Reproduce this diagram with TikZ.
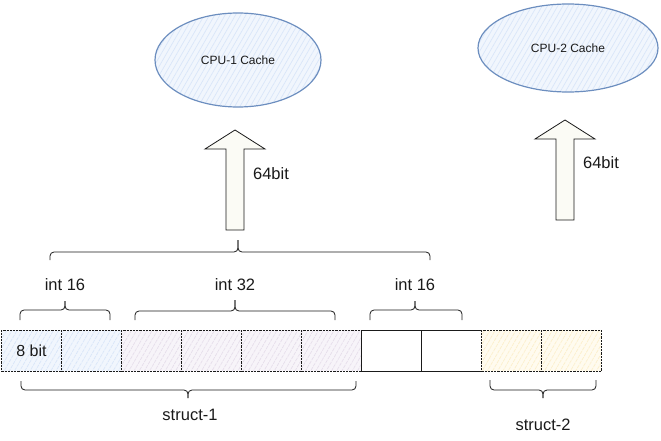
\documentclass[tikz,border=0pt]{standalone}
\usepackage{fontspec}
\setmainfont{Liberation Sans}
\usetikzlibrary{shapes.geometric,patterns.meta}
\definecolor{bluefill}{HTML}{F1F6FD}
\definecolor{bluehatch}{HTML}{D9E6F9}
\definecolor{purplefill}{HTML}{F7F4F9}
\definecolor{purplehatch}{HTML}{E6DEEB}
\definecolor{yellowfill}{HTML}{FFFBEF}
\definecolor{yellowhatch}{HTML}{FCEFCB}
\definecolor{cachestroke}{HTML}{6C8EBF}
\definecolor{arrowfill}{HTML}{FBFBF5}
\definecolor{ink}{HTML}{1A1A1A}
\begin{document}
\begin{tikzpicture}[x=1pt,y=-1pt,
  cell/.style={draw=ink, minimum width=60pt, minimum height=41pt, inner sep=0pt,
    anchor=north west, line width=0.8pt, font=\fontsize{16}{19}\selectfont, text=ink},
  dashcell/.style={cell, dash pattern=on 2.2pt off 1pt},
  hatch/.style={preaction={fill=#1fill}, pattern={Lines[angle=60,distance=4.5pt,line width=0.7pt]}, pattern color=#1hatch},
  cache/.style={ellipse, draw=cachestroke, line width=1.2pt, hatch=blue,
    font=\fontsize{12}{14}\selectfont, text=ink, inner sep=0pt},
  bigarrow/.style={draw=ink, line width=0.8pt, fill=arrowfill, line join=miter},
  lbl/.style={font=\fontsize{16.5}{19}\selectfont, text=ink, inner sep=0pt},
  br/.style={draw=ink, line width=0.8pt, rounded corners=4pt}
]
\useasboundingbox (0,0) rectangle (661,441);

% caches
\node[cache, minimum width=166pt, minimum height=94pt] (cpu1) at (238,60) {CPU-1 Cache};
\node[cache, minimum width=180pt, minimum height=88pt] (cpu2) at (568,48) {CPU-2 Cache};

% arrows
\draw[bigarrow] (226,230) -- (226,149) -- (205,149) -- (235,130) -- (265,149) -- (244,149) -- (244,230) -- cycle;
\node[lbl] (bits1) at (271,174) {64bit};
\draw[bigarrow] (556,220) -- (556,139) -- (535,139) -- (565,120) -- (595,139) -- (574,139) -- (574,220) -- cycle;
\node[lbl] (bits2) at (601,163) {64bit};

% top brace
\draw[br] (50,260) -- (50,252) -- (238,252) -- (238,240);
\draw[br] (430,260) -- (430,252) -- (238,252) -- (238,240);

% int labels
\node[lbl] (i1) at (65,285) {int 16};
\node[lbl] (i2) at (235,285) {int 32};
\node[lbl] (i3) at (415,285) {int 16};

% small braces
\draw[br] (20,320) -- (20,310) -- (65,310) -- (65,301);
\draw[br] (110,320) -- (110,310) -- (65,310) -- (65,301);
\draw[br] (135,320) -- (135,311) -- (235,311) -- (235,300);
\draw[br] (335,320) -- (335,311) -- (235,311) -- (235,300);
\draw[br] (370,320) -- (370,310) -- (415,310) -- (415,301);
\draw[br] (462,320) -- (462,310) -- (415,310) -- (415,301);

% cells
\node[dashcell, hatch=blue] (c1) at (1,330) {8 bit};
\node[dashcell, hatch=blue] (c2) at (61,330) {};
\node[dashcell, hatch=purple] (c3) at (121,330) {};
\node[dashcell, hatch=purple] (c4) at (181,330) {};
\node[dashcell, hatch=purple] (c5) at (241,330) {};
\node[dashcell, hatch=purple] (c6) at (301,330) {};
\node[cell, fill=white] (c7) at (361,330) {};
\node[cell, fill=white] (c8) at (421,330) {};
\node[dashcell, hatch=yellow] (c9) at (481,330) {};
\node[dashcell, hatch=yellow] (c10) at (541,330) {};

% bottom braces
\draw[br] (21,381) -- (21,390) -- (188,390) -- (188,398);
\draw[br] (356,381) -- (356,390) -- (188,390) -- (188,398);
\node[lbl] (s1) at (190,415) {struct-1};
\draw[br] (490,380) -- (490,390) -- (543,390) -- (543,398);
\draw[br] (596,380) -- (596,390) -- (543,390) -- (543,398);
\node[lbl] (s2) at (543,425) {struct-2};
\end{tikzpicture}
\end{document}
